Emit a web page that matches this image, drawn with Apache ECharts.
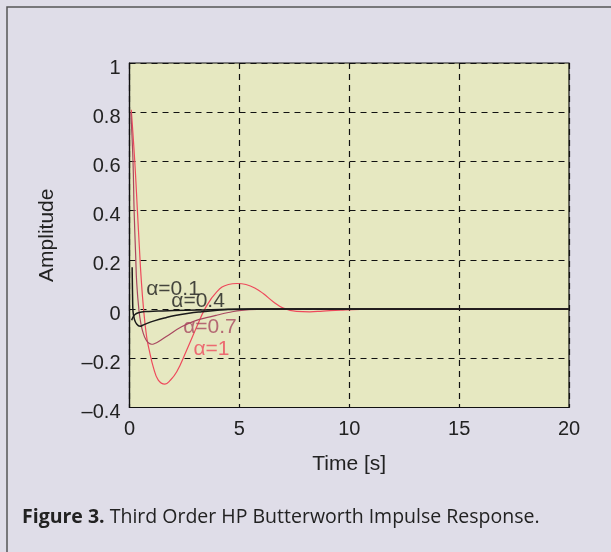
<!DOCTYPE html>
<html><head><meta charset="utf-8">
<script src="https://cdn.jsdelivr.net/npm/echarts@6/dist/echarts.min.js"></script>
<style>html,body{margin:0;padding:0;background:#dfdde8;}#c{width:611px;height:552px;}</style>
</head><body><div id="c"></div>
<script>
// Tick labels
const xTicks = [0, 5, 10, 15, 20];
const yTicks = [-0.4, -0.2, 0, 0.2, 0.4, 0.6, 0.8, 1];

// alpha = 1 (red)
const t1 = [0.08,0.24,0.36,0.45,0.52,0.63,0.78,0.93,1.08,1.31,1.61,1.85,2.15,2.6,3.06,3.44,3.97,4.5,4.9,5.3,5.7,6.1,6.54,7.0,7.6,8.2,8.8,9.6,10.5,12,20];
const v1 = [0.81,0.6,0.4,0.25,0.14,0.01,-0.113,-0.18,-0.235,-0.289,-0.305,-0.29,-0.255,-0.167,-0.072,0.002,0.07,0.1,0.104,0.1,0.086,0.062,0.03,0.004,-0.009,-0.011,-0.008,-0.004,-0.001,0,0];

// alpha = 0.7 (maroon)
const t07 = [0.06,0.16,0.21,0.28,0.33,0.43,0.52,0.63,0.75,0.86,1.01,1.15,1.31,1.77,2.37,2.98,3.5,4.0,4.5,5.1,6,7,20];
const v07 = [0.8,0.6,0.4,0.22,0.104,-0.005,-0.06,-0.1,-0.125,-0.137,-0.143,-0.14,-0.133,-0.106,-0.072,-0.048,-0.035,-0.024,-0.014,-0.005,-0.001,0,0];

// alpha = 0.4 (black)
const t04 = [0.12,0.14,0.16,0.22,0.32,0.48,0.6,0.8,1.16,1.6,2.07,2.7,3.29,4.0,4.5,5.5,20];
const v04 = [0.17,0.05,-0.01,-0.04,-0.06,-0.07,-0.066,-0.058,-0.047,-0.036,-0.026,-0.017,-0.011,-0.005,-0.002,0,0];

// alpha = 0.1 (black)
const t01 = [0.1,0.15,0.25,0.4,0.7,1.3,2,3.1,4.5,6,20];
const v01 = [-0.045,-0.035,-0.022,-0.015,-0.01,-0.008,-0.006,-0.004,-0.001,0,0];

// Curve annotations
const annoText = ['α=0.1','α=0.4','α=0.7','α=1'];
const annoT = [1.98, 3.12, 3.66, 3.73];
const annoV = [0.08, 0.032, -0.074, -0.163];

const RED = '#ee4a5c', MAROON = '#a8475f', BLACK = '#1a1a1a';
const annoColor = [BLACK, BLACK, MAROON, RED];

function zip(a, b) { return a.map((x, i) => [x, b[i]]); }
function fmt(v) { const s = String(Math.round(v * 10) / 10); return s.replace('-', '\u2013'); }

const chart = echarts.init(document.getElementById('c'), null, {renderer: 'canvas'});
const font = 'Liberation Sans, Arial, Helvetica, sans-serif';
const lineSeries = (name, data, color, w) => ({
  type: 'line', name, data, showSymbol: false, symbol: 'none',
  smooth: 0.45,
  lineStyle: {color, width: w}, z: 3, animation: false
});

chart.setOption({
  backgroundColor: '#dfdde8',
  animation: false,
  title: {
    left: 17, top: 502,
    text: '{b|Figure 3.} Third Order HP Butterworth Impulse Response.',
    textStyle: {
      fontFamily: 'Open Sans, sans-serif', fontSize: 19.5, color: '#222', fontWeight: 'normal',
      rich: { b: {fontFamily: 'Open Sans, sans-serif', fontSize: 19.5, fontWeight: 'bold', color: '#222'} }
    }
  },
  graphic: [{
    type: 'rect', silent: true, z: 100,
    shape: {x: 7, y: 7, width: 640, height: 600},
    style: {fill: null, stroke: '#555', lineWidth: 1.5}
  }],
  grid: {
    left: 129.5, top: 63, right: 42, bottom: 144.5,
    show: true, backgroundColor: '#e6e8c1', borderColor: '#111', borderWidth: 1.2
  },
  xAxis: {
    type: 'value', min: 0, max: 20, interval: 5,
    name: 'Time [s]', nameLocation: 'middle', nameGap: 46,
    nameTextStyle: {fontFamily: font, fontSize: 21, color: '#222'},
    axisLine: {onZero: false, lineStyle: {color: '#111', width: 1.2}},
    axisTick: {show: false},
    axisLabel: {fontFamily: font, fontSize: 20, color: '#222', margin: 12,
      formatter: v => xTicks.includes(v) ? String(v) : ''},
    splitLine: {show: true, lineStyle: {color: '#111', type: [6, 5], width: 1.2}}
  },
  yAxis: {
    type: 'value', min: -0.4, max: 1, interval: 0.2,
    name: 'Amplitude', nameLocation: 'middle', nameGap: 72, nameRotate: 90,
    nameTextStyle: {fontFamily: font, fontSize: 21, color: '#222'},
    axisLine: {show: true, lineStyle: {color: '#111', width: 1.2}},
    axisTick: {show: false},
    axisLabel: {fontFamily: font, fontSize: 20, color: '#222', margin: 9,
      formatter: v => { const r = Math.round(v * 10) / 10; return yTicks.includes(r) ? '{a|' + fmt(r) + '}' : ''; },
      rich: {a: {fontFamily: font, fontSize: 20, color: '#222', padding: [10, 0, 0, 0]}}},
    splitLine: {show: true, lineStyle: {color: '#111', type: [6, 5], width: 1.2}}
  },
  series: [
    lineSeries('α=1', zip(t1, v1), RED, 1.2),
    lineSeries('α=0.7', zip(t07, v07), MAROON, 1.2),
    lineSeries('α=0.4', zip(t04, v04), BLACK, 1.5),
    lineSeries('α=0.1', zip(t01, v01), BLACK, 1.5),
    {
      type: 'scatter', symbolSize: 0, z: 5, animation: false, silent: true,
      data: annoText.map((s, i) => ({value: [annoT[i], annoV[i]],
        label: {show: true, position: 'inside', formatter: s,
          fontFamily: font, fontSize: 21, color: annoColor[i]}}))
    }
  ]
});
</script></body></html>
